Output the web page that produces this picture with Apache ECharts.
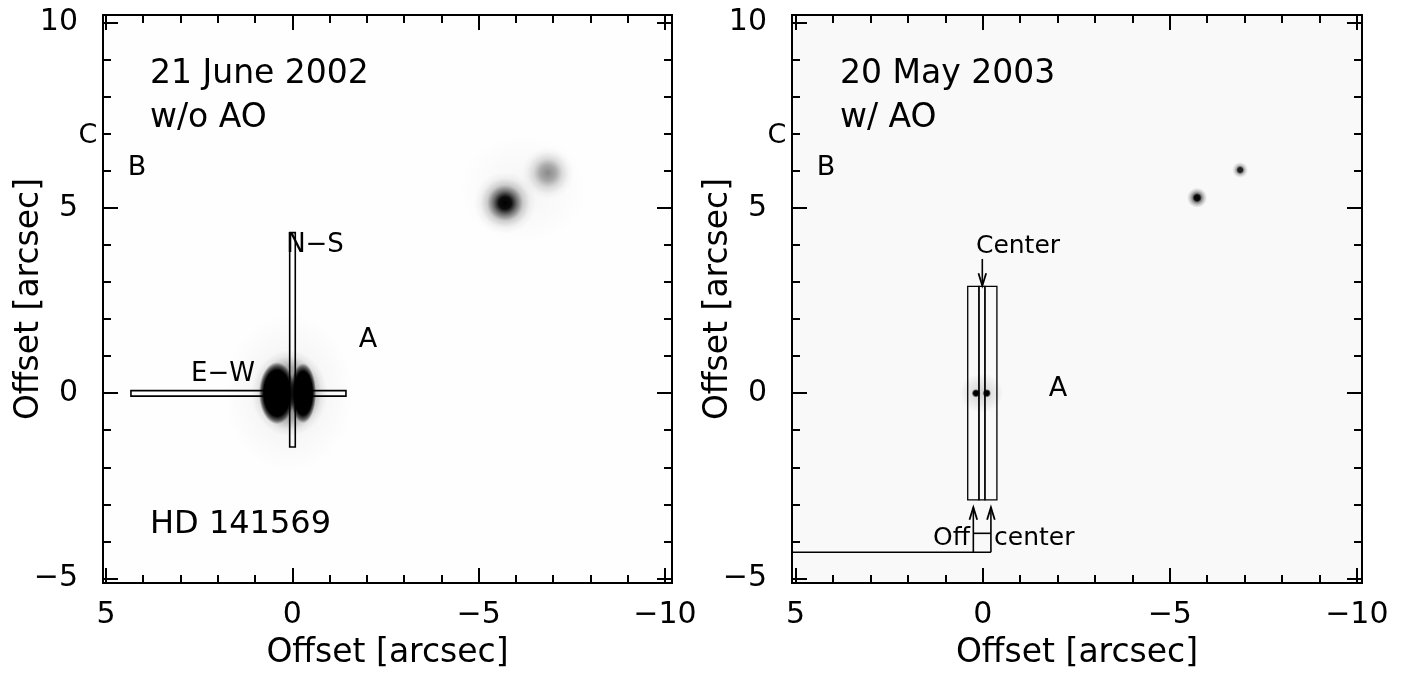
<!DOCTYPE html>
<html><head><meta charset="utf-8">
<script src="https://cdn.jsdelivr.net/npm/echarts@6/dist/echarts.min.js"></script>
<style>html,body{margin:0;padding:0;background:#fff}#c{width:1401px;height:675px}</style>
</head><body><div id="c"></div>
<script>
// ---------- axis ticks ----------
const xMajorTicks = [5, 0, -5, -10];
const yMajorTicks = [10, 5, 0, -5];
const xMinorTicks = [5, 4, 3, 2, 1, 0, -1, -2, -3, -4, -5, -6, -7, -8, -9, -10];
const yMinorTicks = [10, 9, 8, 7, 6, 5, 4, 3, 2, 1, 0, -1, -2, -3, -4, -5];
const axisTitle = 'Offset [arcsec]';

// ---------- panel 1 : 21 June 2002, w/o AO ----------
// stars [x, y, relative peak]
const jun2002Stars = [[-5.71, 5.13, 1.0], [-6.86, 5.94, 0.5]];          // B, C
const jun2002PrimaryLobes = [[0.41, 0.0, 1.0], [-0.29, 0.0, 1.0]];      // A (saturated)
const jun2002PrimaryHalo = [[0.08, 0.0, 1.0]];
const jun2002CompanionHalo = [[-6.2, 5.5, 1.0]];
// slits [x1, x2, y1, y2]
const jun2002Slits = [[4.33, -1.44, -0.08, 0.07], [0.07, -0.08, -1.45, 4.33]];

// ---------- panel 2 : 20 May 2003, w/ AO ----------
const may2003Stars = [[-5.73, 5.27, 1.0], [-6.88, 6.02, 0.9]];          // B, C
const may2003PrimaryCores = [[0.18, 0.0, 1.0], [-0.11, 0.0, 1.0]];      // A
const may2003PrimaryHalo = [[0.03, 0.0, 1.0]];
const may2003Slits = [[0.40, 0.10, -2.88, 2.88], [0.10, -0.06, -2.88, 2.88], [-0.06, -0.38, -2.88, 2.88]];
// arrows [xFrom, yFrom, xTo, yTo]
const may2003Arrows = [[0.01, 3.62, 0.01, 2.9], [0.25, -4.29, 0.25, -3.08], [-0.22, -4.29, -0.22, -3.08]];
const may2003Leaders = [[5.096, -4.29, -0.22, -4.29], [0.25, -3.78, -0.22, -3.78]];

const FONT = 'DejaVu Sans';
const minus = v => String(v).replace('-', '\u2212');

const grids = [
  { left: 103, top: 15, width: 569, height: 570, xr: [-10.19, 5.08], yr: [-5.12, 10.2], bg: '#fefefe' },
  { left: 792, top: 15, width: 570, height: 570, xr: [-10.137, 5.096], yr: [-5.12, 10.2], bg: '#f9f9f9' }
];

const xAxes = [], yAxes = [];
grids.forEach((g, gi) => {
  for (const pos of ['bottom', 'top']) for (const major of [true, false]) {
    const main = pos === 'bottom' && major;
    xAxes.push({
      gridIndex: gi, type: 'value', position: pos, min: g.xr[0], max: g.xr[1], inverse: true,
      axisLine: { show: false, onZero: false }, splitLine: { show: false },
      axisTick: { show: true, inside: true, length: major ? 15 : 8, customValues: major ? xMajorTicks : xMinorTicks,
        lineStyle: { color: '#000', width: 2 } },
      axisLabel: main ? { show: true, customValues: xMajorTicks, formatter: minus, fontFamily: FONT, fontSize: 30, color: '#000', margin: 17 } : { show: false },
      name: main ? axisTitle : '', nameLocation: 'middle', nameGap: 54, nameMoveOverlap: false,
      nameTextStyle: { fontFamily: FONT, fontSize: 33, color: '#000' }
    });
  }
  for (const pos of ['left', 'right']) for (const major of [true, false]) {
    const main = pos === 'left' && major;
    yAxes.push({
      gridIndex: gi, type: 'value', position: pos, min: g.yr[0], max: g.yr[1],
      axisLine: { show: false, onZero: false }, splitLine: { show: false },
      axisTick: { show: true, inside: true, length: major ? 15 : 8, customValues: major ? yMajorTicks : yMinorTicks,
        lineStyle: { color: '#000', width: 2 } },
      axisLabel: main ? { show: true, customValues: yMajorTicks, formatter: minus, fontFamily: FONT, fontSize: 30, color: '#000', margin: 25 } : { show: false },
      name: main ? axisTitle : '', nameLocation: 'middle', nameGap: 57, nameRotate: 90, nameMoveOverlap: false,
      nameTextStyle: { fontFamily: FONT, fontSize: 33, color: '#000' }
    });
  }
});

function radial(stops, peak) {
  return { type: 'radial', x: 0.5, y: 0.5, r: 0.5,
    colorStops: stops.map(s => ({ offset: s[0], color: 'rgba(0,0,0,' + Math.min(1, s[1] * peak).toFixed(3) + ')' })) };
}
function blobSeries(gi, data, size, stops) {
  return data.map(d => ({
    type: 'scatter', xAxisIndex: gi * 4, yAxisIndex: gi * 4, symbol: 'circle', symbolSize: size,
    silent: true, animation: false, data: [[d[0], d[1]]],
    itemStyle: { color: radial(stops, d[2]), opacity: 1 }
  }));
}
function slitSeries(gi, data, fill, lw) {
  return {
    type: 'custom', xAxisIndex: gi * 4, yAxisIndex: gi * 4, silent: true, animation: false,
    data: data, encode: { x: [0, 1], y: [2, 3] },
    renderItem(params, api) {
      const a = api.coord([api.value(0), api.value(2)]);
      const b = api.coord([api.value(1), api.value(3)]);
      return { type: 'rect', shape: { x: Math.min(a[0], b[0]), y: Math.min(a[1], b[1]), width: Math.abs(a[0] - b[0]), height: Math.abs(a[1] - b[1]) },
        style: { fill: fill, stroke: '#000', lineWidth: lw } };
    }
  };
}
function lineSeries(gi, data, arrow) {
  return {
    type: 'custom', xAxisIndex: gi * 4, yAxisIndex: gi * 4, silent: true, animation: false,
    data: data, encode: { x: [0, 2], y: [1, 3] },
    renderItem(params, api) {
      const a = api.coord([api.value(0), api.value(1)]);
      const b = api.coord([api.value(2), api.value(3)]);
      const children = [{ type: 'line', shape: { x1: a[0], y1: a[1], x2: b[0], y2: b[1] }, style: { stroke: '#000', lineWidth: 1.6 } }];
      if (arrow) {
        const ang = Math.atan2(b[1] - a[1], b[0] - a[0]);
        const L = 13, W = 0.3;
        const p1 = [b[0] - L * Math.cos(ang - W), b[1] - L * Math.sin(ang - W)];
        const p2 = [b[0] - L * Math.cos(ang + W), b[1] - L * Math.sin(ang + W)];
        children.push({ type: 'polyline', shape: { points: [p1, b, p2] }, style: { stroke: '#000', lineWidth: 1.8, fill: null } });
      }
      return { type: 'group', children };
    }
  };
}

const series = [].concat(
  // panel 1
  blobSeries(0, jun2002PrimaryHalo, [130, 160], [[0, 0.06], [0.5, 0.03], [1, 0]]),
  blobSeries(0, jun2002PrimaryHalo, [76, 86], [[0, 0.6], [0.6, 0.3], [0.85, 0.06], [1, 0]]),
  blobSeries(0, jun2002PrimaryLobes.slice(0, 1), [36, 62], [[0, 1], [0.74, 1], [0.88, 0.55], [1, 0]]),
  blobSeries(0, jun2002PrimaryLobes.slice(1), [26, 60], [[0, 1], [0.72, 1], [0.88, 0.5], [1, 0]]),
  blobSeries(0, jun2002CompanionHalo, [130, 110], [[0, 0.035], [0.6, 0.015], [1, 0]]),
  blobSeries(0, jun2002Stars.slice(0, 1), 62, [[0, 1], [0.2, 0.95], [0.38, 0.55], [0.58, 0.18], [0.8, 0.04], [1, 0]]),
  blobSeries(0, jun2002Stars.slice(1), 52, [[0, 0.9], [0.3, 0.65], [0.55, 0.26], [0.8, 0.06], [1, 0]]),
  [slitSeries(0, jun2002Slits, '#fff', 1.6)],
  // panel 2
  blobSeries(1, may2003PrimaryHalo, [44, 40], [[0, 0.16], [0.6, 0.07], [1, 0]]),
  blobSeries(1, may2003PrimaryCores, 8, [[0, 1], [0.6, 1], [1, 0.2]]),
  blobSeries(1, may2003Stars.slice(0, 1), 20, [[0, 1], [0.3, 0.95], [0.45, 0.5], [0.7, 0.2], [1, 0]]),
  blobSeries(1, may2003Stars.slice(1), 16, [[0, 1], [0.3, 0.95], [0.5, 0.35], [0.75, 0.12], [1, 0]]),
  [slitSeries(1, may2003Slits, null, 1.3)],
  [lineSeries(1, may2003Arrows, true)],
  [lineSeries(1, may2003Leaders, false)]
);

function txt(t, x, y, size, align) {
  return { type: 'text', x: x, y: y, silent: true, z: 100,
    style: { text: t, fontFamily: FONT, fontSize: size, fill: '#000', align: align || 'center', verticalAlign: 'middle' } };
}
const annotations = [
  txt('21 June 2002', 150, 74, 33, 'left'),
  txt('w/o AO', 150, 118, 33, 'left'),
  txt('C', 88, 136, 27),
  txt('B', 137, 168, 27),
  txt('N\u2212S', 315, 245, 26),
  txt('E\u2212W', 223, 374, 26),
  txt('A', 368, 340, 27),
  txt('HD 141569', 150, 525, 32, 'left'),
  txt('20 May 2003', 840, 74, 33, 'left'),
  txt('w/ AO', 840, 118, 33, 'left'),
  txt('C', 777, 136, 27),
  txt('B', 826, 168, 27),
  txt('Center', 1018, 246, 25),
  txt('A', 1058, 389, 27),
  txt('Off', 970, 538, 25, 'right'),
  txt('center', 994, 538, 25, 'left')
];

const chart = echarts.init(document.getElementById('c'), null, { renderer: 'canvas' });
chart.setOption({
  animation: false,
  backgroundColor: '#fff',
  grid: grids.map(g => ({ left: g.left, top: g.top, width: g.width, height: g.height, show: true,
    backgroundColor: g.bg, borderColor: '#000', borderWidth: 2, containLabel: false })),
  xAxis: xAxes,
  yAxis: yAxes,
  series: series,
  graphic: annotations
});
</script></body></html>
